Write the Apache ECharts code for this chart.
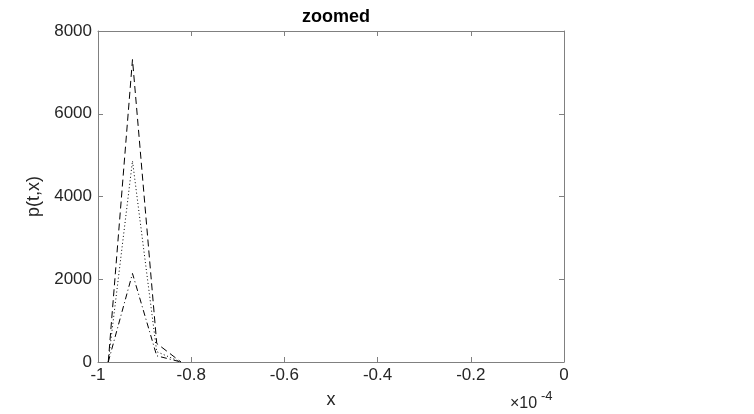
<!DOCTYPE html>
<html lang="en">
<head>
    <meta charset="UTF-8">
    <title>zoomed</title>
    <script src="https://cdn.jsdelivr.net/npm/echarts@6/dist/echarts.min.js"></script>
    <style>
    body { margin: 0; background: #fff; }
    #chart { width: 754px; height: 414px; }
    </style>
</head>
<body>
<div id="chart"></div>
<script>
    // x in units of 1e-4
    var xs = [-0.978, -0.926, -0.874, -0.822];
    var dashed = [0, 7310, 450, 0];
    var dotted = [0, 4860, 250, 0];
    var dashDot = [0, 2140, 150, 0];
    var xTicks = [-1, -0.8, -0.6, -0.4, -0.2, 0];
    var yTicks = [0, 2000, 4000, 6000, 8000];

    function pairs(ys) {
        var out = [];
        for (var i = 0; i < xs.length; i++) out.push([xs[i], ys[i]]);
        return out;
    }

    var font = 'Liberation Sans, Helvetica, Arial, sans-serif';
    var axisLine = { show: true, onZero: false, lineStyle: { color: '#808080', width: 1 } };
    var tick = { show: true, inside: true, length: 5, lineStyle: { color: '#808080' } };

    var myChart = echarts.init(document.getElementById('chart'));
    var option = {
        animation: false,
        title: {
            text: 'zoomed',
            left: 331, top: 3, textAlign: 'center',
            textStyle: { fontFamily: font, fontSize: 18, fontWeight: 'bold', color: '#000' }
        },
        grid: { left: 98, right: 190, top: 31, bottom: 47 },
        xAxis: [{
            type: 'value', min: -1, max: 0, interval: 0.2,
            axisLine: axisLine, axisTick: tick, splitLine: { show: false },
            axisLabel: { color: '#262626', fontFamily: font, fontSize: 17, margin: 5,
                formatter: function (v) { var r = Math.round(v * 10) / 10; return xTicks.indexOf(r) >= 0 ? String(r) : ''; } },
            name: 'x', nameLocation: 'middle', nameGap: 29,
            nameTextStyle: { color: '#262626', fontFamily: font, fontSize: 18 }
        }, {
            type: 'value', min: -1, max: 0, interval: 0.2, position: 'top',
            axisLine: axisLine, axisTick: tick, axisLabel: { show: false }, splitLine: { show: false }
        }],
        yAxis: [{
            type: 'value', min: 0, max: 8000, interval: 2000,
            axisLine: axisLine, axisTick: tick, splitLine: { show: false },
            axisLabel: { color: '#262626', fontFamily: font, fontSize: 17, margin: 6,
                formatter: function (v) { return yTicks.indexOf(v) >= 0 ? String(v) : ''; } },
            name: 'p(t,x)', nameLocation: 'middle', nameGap: 52,
            nameTextStyle: { color: '#262626', fontFamily: font, fontSize: 18 }
        }, {
            type: 'value', min: 0, max: 8000, interval: 2000, position: 'right',
            axisLine: axisLine, axisTick: tick, axisLabel: { show: false }, splitLine: { show: false }
        }],
        graphic: [{
            type: 'text', left: 510, top: 396,
            style: { text: '×10', fill: '#262626', font: '16px ' + font }
        }, {
            type: 'text', left: 541, top: 390,
            style: { text: '-4', fill: '#262626', font: '13px ' + font }
        }],
        series: [{
            type: 'line', data: pairs(dashed), symbol: 'none',
            lineStyle: { color: '#000', width: 1, type: [7, 4] }
        }, {
            type: 'line', data: pairs(dotted), symbol: 'none',
            lineStyle: { color: '#000', width: 1, type: [1, 2.5] }
        }, {
            type: 'line', data: pairs(dashDot), symbol: 'none',
            lineStyle: { color: '#000', width: 1, type: [6, 3, 1, 3] }
        }]
    };
    myChart.setOption(option);
</script>
</body>
</html>
